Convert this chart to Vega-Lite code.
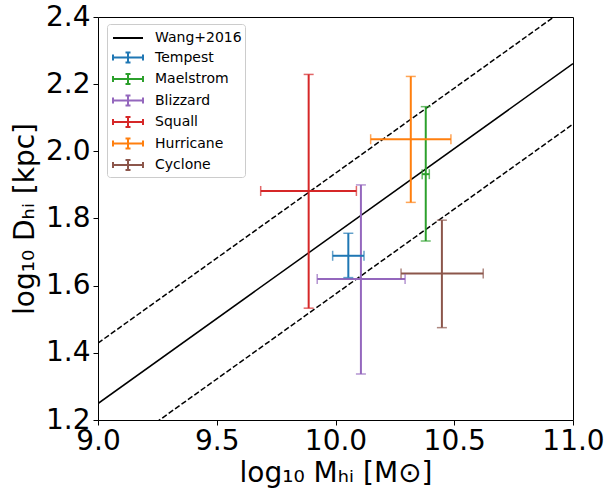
{
  "$schema": "https://vega.github.io/schema/vega-lite/v6.json",
  "width": 475,
  "height": 403,
  "autosize": {"type": "none"},
  "padding": {"left": 98, "top": 17, "right": 35, "bottom": 71},
  "background": "white",
  "config": {
    "font": "DejaVu Sans",
    "view": {"stroke": "black", "strokeWidth": 1},
    "axis": {
      "domain": false,
      "grid": false,
      "tickColor": "black",
      "tickSize": 5,
      "tickWidth": 1,
      "labelColor": "black",
      "labelFont": "DejaVu Sans",
      "labelFontSize": 28,
      "labelFlush": false,
      "labelOverlap": false,
      "titleFont": "DejaVu Sans",
      "titleFontSize": 28,
      "titleFontWeight": "normal",
      "titleColor": "black"
    },
    "legend": {
      "title": null,
      "orient": "none",
      "legendX": 9,
      "legendY": 7,
      "padding": 3,
      "symbolOffset": 7,
      "labelOffset": 16,
      "rowPadding": 1.5,
      "symbolSize": 400,
      "symbolStrokeWidth": 2,
      "symbolOpacity": 1,
      "labelFont": "DejaVu Sans",
      "labelFontSize": 14,
      "labelColor": "black",
      "strokeColor": "#cccccc",
      "fillColor": "rgba(255,255,255,0.8)",
      "cornerRadius": 3
    }
  },
  "datasets": {
    "galaxies": [
      {"series": "Tempest", "m": 10.054, "m_lo": 9.988, "m_hi": 10.12, "d": 1.689, "d_lo": 1.624, "d_hi": 1.756},
      {"series": "Maelstrom", "m": 10.38, "m_lo": 10.365, "m_hi": 10.395, "d": 1.932, "d_lo": 1.733, "d_hi": 2.133},
      {"series": "Blizzard", "m": 10.107, "m_lo": 9.923, "m_hi": 10.293, "d": 1.62, "d_lo": 1.337, "d_hi": 1.9},
      {"series": "Squall", "m": 9.887, "m_lo": 9.685, "m_hi": 10.088, "d": 1.882, "d_lo": 1.533, "d_hi": 2.229},
      {"series": "Hurricane", "m": 10.317, "m_lo": 10.148, "m_hi": 10.486, "d": 2.036, "d_lo": 1.848, "d_hi": 2.223},
      {"series": "Cyclone", "m": 10.448, "m_lo": 10.276, "m_hi": 10.622, "d": 1.636, "d_lo": 1.475, "d_hi": 1.795}
    ],
    "relation": [
      {"band": "fit", "m": 9.0, "d": 1.249},
      {"band": "fit", "m": 11.0, "d": 2.261},
      {"band": "upper", "m": 9.0, "d": 1.429},
      {"band": "upper", "m": 11.0, "d": 2.441},
      {"band": "lower", "m": 9.0, "d": 1.069},
      {"band": "lower", "m": 11.0, "d": 2.081}
    ]
  },
  "encoding": {
    "x": {
      "type": "quantitative",
      "scale": {"domain": [9, 11], "nice": false, "zero": false},
      "axis": {"values": [9, 9.5, 10, 10.5, 11], "format": ".1f", "title": "log₁₀ Mₕᵢ [M⊙]", "labelPadding": 2, "titlePadding": 4}
    },
    "y": {
      "type": "quantitative",
      "scale": {"domain": [1.2, 2.4], "nice": false, "zero": false},
      "axis": {"values": [1.2, 1.4, 1.6, 1.8, 2.0, 2.2, 2.4], "format": ".1f", "title": "log₁₀ Dₕᵢ [kpc]", "labelPadding": 3, "titlePadding": 6}
    }
  },
  "layer": [
    {
      "data": {"name": "relation"},
      "transform": [{"filter": "datum.band === 'fit'"}],
      "mark": {"type": "line", "color": "black", "strokeWidth": 1.5, "clip": true},
      "encoding": {"x": {"field": "m"}, "y": {"field": "d"}}
    },
    {
      "data": {"name": "relation"},
      "transform": [{"filter": "datum.band !== 'fit'"}],
      "mark": {"type": "line", "color": "black", "strokeWidth": 1.5, "strokeDash": [5.5, 2.4], "clip": true},
      "encoding": {"x": {"field": "m"}, "y": {"field": "d"}, "detail": {"field": "band"}}
    },
    {
      "data": {"name": "galaxies"},
      "mark": {"type": "point", "filled": false, "opacity": 0, "strokeWidth": 2},
      "encoding": {
        "x": {"field": "m"},
        "y": {"field": "d"},
        "color": {
          "field": "series",
          "type": "nominal",
          "scale": {
            "domain": ["\u00a0Wang+2016\u00a0", "Tempest", "Maelstrom", "Blizzard", "Squall", "Hurricane", "Cyclone"],
            "range": ["#000000", "#1f77b4", "#2ca02c", "#9467bd", "#d62728", "#ff7f0e", "#8c564b"]
          }
        },
        "shape": {
          "field": "series",
          "type": "nominal",
          "scale": {
            "domain": ["\u00a0Wang+2016\u00a0", "Tempest", "Maelstrom", "Blizzard", "Squall", "Hurricane", "Cyclone"],
            "range": [
              "M-1.5,0H1.5",
              "M-1.5,0H1.5M-1.5,-0.3V0.3M1.5,-0.3V0.3M0,-0.5V0.5M-0.25,-0.5H0.25M-0.25,0.5H0.25",
              "M-1.5,0H1.5M-1.5,-0.3V0.3M1.5,-0.3V0.3M0,-0.5V0.5M-0.25,-0.5H0.25M-0.25,0.5H0.25",
              "M-1.5,0H1.5M-1.5,-0.3V0.3M1.5,-0.3V0.3M0,-0.5V0.5M-0.25,-0.5H0.25M-0.25,0.5H0.25",
              "M-1.5,0H1.5M-1.5,-0.3V0.3M1.5,-0.3V0.3M0,-0.5V0.5M-0.25,-0.5H0.25M-0.25,0.5H0.25",
              "M-1.5,0H1.5M-1.5,-0.3V0.3M1.5,-0.3V0.3M0,-0.5V0.5M-0.25,-0.5H0.25M-0.25,0.5H0.25",
              "M-1.5,0H1.5M-1.5,-0.3V0.3M1.5,-0.3V0.3M0,-0.5V0.5M-0.25,-0.5H0.25M-0.25,0.5H0.25"
            ]
          }
        }
      }
    },
    {
      "data": {"name": "galaxies"},
      "mark": {"type": "rule", "strokeWidth": 2},
      "encoding": {
        "x": {"field": "m"},
        "y": {"field": "d_lo"},
        "y2": {"field": "d_hi"},
        "color": {"field": "series", "type": "nominal"}
      }
    },
    {
      "data": {"name": "galaxies"},
      "mark": {"type": "rule", "strokeWidth": 2},
      "encoding": {
        "x": {"field": "m_lo"},
        "x2": {"field": "m_hi"},
        "y": {"field": "d"},
        "color": {"field": "series", "type": "nominal"}
      }
    },
    {
      "data": {"name": "galaxies"},
      "mark": {"type": "tick", "orient": "horizontal", "size": 10, "thickness": 1.5},
      "encoding": {
        "x": {"field": "m"},
        "y": {"field": "d_lo"},
        "color": {"field": "series", "type": "nominal"}
      }
    },
    {
      "data": {"name": "galaxies"},
      "mark": {"type": "tick", "orient": "horizontal", "size": 10, "thickness": 1.5},
      "encoding": {
        "x": {"field": "m"},
        "y": {"field": "d_hi"},
        "color": {"field": "series", "type": "nominal"}
      }
    },
    {
      "data": {"name": "galaxies"},
      "mark": {"type": "tick", "orient": "vertical", "size": 10, "thickness": 1.5},
      "encoding": {
        "x": {"field": "m_lo"},
        "y": {"field": "d"},
        "color": {"field": "series", "type": "nominal"}
      }
    },
    {
      "data": {"name": "galaxies"},
      "mark": {"type": "tick", "orient": "vertical", "size": 10, "thickness": 1.5},
      "encoding": {
        "x": {"field": "m_hi"},
        "y": {"field": "d"},
        "color": {"field": "series", "type": "nominal"}
      }
    }
  ]
}
